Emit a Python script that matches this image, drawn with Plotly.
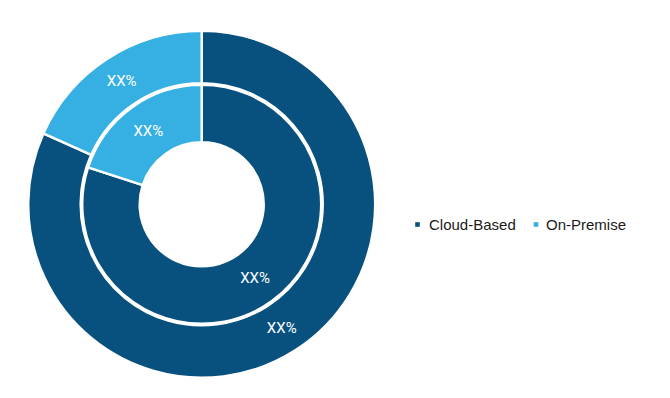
import plotly.graph_objects as go

labels = ["Cloud-Based", "On-Premise"]
outer_values = [81.7, 18.3]
inner_values = [80.0, 20.0]
text_labels = ["XX%", "XX%"]
colors = ["#08517F", "#36B0E2"]

W, H = 670, 398
OFF = 8  # default page body margin
cx, cy = 201.7 - OFF, 204.3 - OFF
r_out, r_mid, r_hole = 173.5, 119.5, 62.0

def dom(r):
    return dict(x=[(cx - r) / W, (cx + r) / W],
                y=[(H - cy - r) / H, (H - cy + r) / H])

label_font = dict(color="white", size=15, family="Roboto")

fig = go.Figure()
fig.add_trace(go.Pie(
    labels=labels, values=outer_values, text=text_labels,
    textinfo="text", textposition="inside", insidetextorientation="horizontal",
    textfont=label_font,
    hole=(r_mid + 1.5) / r_out, domain=dom(r_out), sort=False,
    direction="clockwise", rotation=0,
    marker=dict(colors=colors, line=dict(color="white", width=2.5)),
    showlegend=False,
))
fig.add_trace(go.Pie(
    labels=labels, values=inner_values, text=text_labels,
    textinfo="text", textposition="inside", insidetextorientation="horizontal",
    textfont=label_font,
    hole=r_hole / r_mid, domain=dom(r_mid), sort=False,
    direction="clockwise", rotation=0,
    marker=dict(colors=colors, line=dict(color="white", width=2.5)),
    showlegend=False,
))

# custom legend (small square markers close to the text)
legend_marker_x = [417.5 - OFF, 536.0 - OFF]
legend_text_x = [426.7 - OFF, 544.3 - OFF]
legend_y = 224.0 - OFF
msz = 2.3
shapes, annotations = [], []
for lab, col, mx, tx in zip(labels, colors, legend_marker_x, legend_text_x):
    shapes.append(dict(type="rect", xref="paper", yref="paper",
                       x0=(mx - msz) / W, x1=(mx + msz) / W,
                       y0=1 - (legend_y + 0.5 + msz) / H, y1=1 - (legend_y + 0.5 - msz) / H,
                       fillcolor=col, line=dict(width=0)))
    annotations.append(dict(text=lab, xref="paper", yref="paper",
                            x=tx / W, y=1 - legend_y / H, xanchor="left", yanchor="middle",
                            showarrow=False,
                            font=dict(family="Liberation Sans", size=15, color="#1a1a1a")))

fig.update_layout(
    width=W, height=H,
    margin=dict(l=0, r=0, t=0, b=0),
    paper_bgcolor="white", plot_bgcolor="white",
    shapes=shapes, annotations=annotations,
)
fig.write_html("out.html")
